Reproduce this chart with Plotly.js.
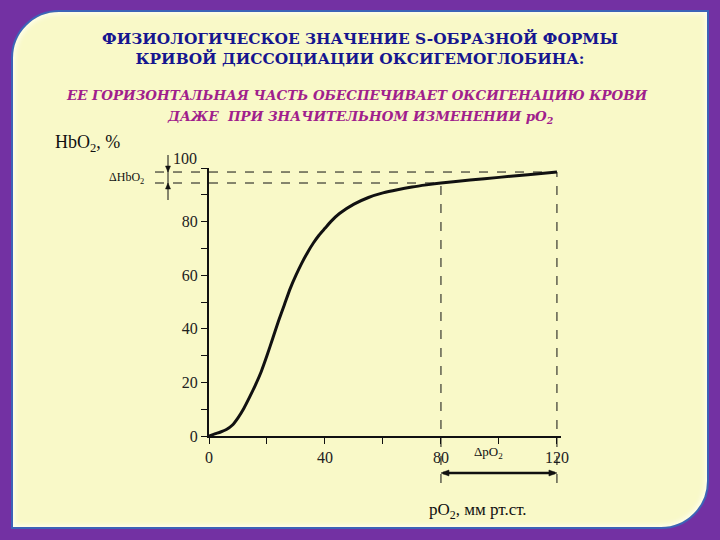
<!DOCTYPE html>
<html><head><meta charset="utf-8">
<script src="https://cdn.plot.ly/plotly-3.0.1.min.js"></script>
<style>
html,body{margin:0;padding:0;width:720px;height:540px;background:#7331a3;overflow:hidden}
#card{position:absolute;left:11px;top:10px;width:694px;height:515px;background:#f9f9c8;border:2px solid #3d63b8;border-radius:48px 0 48px 0;box-shadow:inset 0 0 5px 2px #fffff0;}
#chart{position:absolute;left:0;top:0;width:720px;height:540px}
</style></head><body>
<div id="card"></div><div id="chart"></div>
<script>
// Oxygen partial pressure, mm Hg
const pO2  = [0, 2, 4, 6, 8, 10, 12, 14, 16, 18, 20, 22, 24, 26, 28, 30, 32, 34, 36, 38, 40, 42, 45, 50, 55, 60, 65, 70, 75, 80, 90, 100, 110, 120];
// Oxyhemoglobin saturation, %
const HbO2 = [0, 0.8, 1.5, 2.4, 4, 6.8, 10.3, 14.5, 19, 24, 30, 36.5, 43, 49, 55, 60, 64.5, 68.5, 72, 75, 77.5, 80, 83, 86.5, 89, 90.7, 91.9, 92.9, 93.7, 94.4, 95.5, 96.5, 97.5, 98.5];
const xTickVals = [0, 40, 80, 120];
const xTickText = ['0', '40', '80', '120'];
const xMinorVals = [20, 60, 100];
const yTickVals = [0, 20, 40, 60, 80];
const yTickText = ['0', '20', '40', '60', '80'];
const yMinorVals = [10, 30, 50, 70, 90, 100];
const pO2Low = 80, pO2High = 120;

const xMax = 121.4;
const sx = 1 / 352, sy = 1 / 268;   // paper units per pixel
const hLow = HbO2[pO2.indexOf(pO2Low)];
const hHigh = HbO2[pO2.indexOf(pO2High)];
const serif = 'Liberation Serif';
const boldSerif = 'DejaVu Serif';

const curve = {
  x: pO2, y: HbO2, type: 'scatter', mode: 'lines',
  line: {color: '#111', width: 3, shape: 'spline', smoothing: 0.6},
  hoverinfo: 'skip', showlegend: false
};

// triangle arrowheads in paper coordinates
function tri(tx, ty, dir, len, half) {
  let p;
  if (dir === 'down') p = [[tx, ty], [tx - half * sx, ty + len * sy], [tx + half * sx, ty + len * sy]];
  if (dir === 'up') p = [[tx, ty], [tx - half * sx, ty - len * sy], [tx + half * sx, ty - len * sy]];
  if (dir === 'left') p = [[tx, ty], [tx + len * sx, ty + half * sy], [tx + len * sx, ty - half * sy]];
  if (dir === 'right') p = [[tx, ty], [tx - len * sx, ty + half * sy], [tx - len * sx, ty - half * sy]];
  return {type: 'path', xref: 'paper', yref: 'paper',
    path: 'M' + p.map(q => q[0].toFixed(5) + ',' + q[1].toFixed(5)).join('L') + 'Z',
    fillcolor: '#111', line: {color: '#111', width: 0.5}};
}

const dHbX = -41 * sx;       // x of the ΔHbO2 bracket
const dPoY = -37 * sy;       // y of the ΔpO2 bracket
const dash = {color: '#111', width: 1, dash: 'dash'};
const shapes = [
  {type: 'line', xref: 'paper', yref: 'y', x0: -54 * sx, x1: pO2High / xMax, y0: hHigh, y1: hHigh, line: dash},
  {type: 'line', xref: 'paper', yref: 'y', x0: -54 * sx, x1: pO2Low / xMax, y0: hLow, y1: hLow, line: dash},
  {type: 'line', xref: 'x', yref: 'paper', x0: pO2Low, x1: pO2Low, y0: -47 * sy, y1: hLow / 100, line: dash},
  {type: 'line', xref: 'x', yref: 'paper', x0: pO2High, x1: pO2High, y0: -47 * sy, y1: hHigh / 100, line: dash},
  {type: 'line', xref: 'paper', yref: 'paper', x0: dHbX, x1: dHbX, y0: 1 + 13 * sy, y1: 1 - 32 * sy, line: {color: '#111', width: 1}},
  {type: 'line', xref: 'x', yref: 'paper', x0: pO2Low + 2 / (352 / xMax), x1: pO2High - 2 / (352 / xMax), y0: dPoY, y1: dPoY, line: {color: '#111', width: 2.5}},
  tri(dHbX, hHigh / 100, 'down', 6, 2.5),
  tri(dHbX, hLow / 100, 'up', 6, 2.5),
  tri(pO2Low / xMax, dPoY, 'left', 8, 3),
  tri(pO2High / xMax, dPoY, 'right', 8, 3)
];

const ann = (text, x, y, font) => ({text, xref: 'paper', yref: 'paper', x, y, xanchor: 'center', yanchor: 'middle', showarrow: false, font});
const subFont = {family: boldSerif, size: 13.4, color: '#a0208c', weight: 700, style: 'italic'};
const plain = (size, color) => ({family: serif, size, color});
const annotations = [
  ann('ЕЕ ГОРИЗОНТАЛЬНАЯ ЧАСТЬ ОБЕСПЕЧИВАЕТ ОКСИГЕНАЦИЮ КРОВИ', 0.42, 1.272, subFont),
  ann('ДАЖЕ&nbsp; ПРИ ЗНАЧИТЕЛЬНОМ ИЗМЕНЕНИИ pO<sub>2</sub>', 0.43, 1.19, subFont),
  ann('HbO<sub>2</sub>, %', -0.344, 1.093, plain(18, '#111')),
  ann('pO<sub>2</sub>, мм рт.ст.', 0.764, -0.28, plain(17, '#111')),
  ann('ΔHbO<sub>2</sub>', -0.233, 0.963, plain(12, '#111')),
  ann('ΔpO<sub>2</sub>', 0.793, -0.063, plain(13, '#111')),
  ann('100', -0.068, 1.037, plain(16, '#222'))
];

const layout = {
  width: 720, height: 540,
  margin: {l: 209, r: 159, t: 168, b: 104, autoexpand: false},
  paper_bgcolor: 'rgba(0,0,0,0)', plot_bgcolor: 'rgba(0,0,0,0)',
  title: {
    text: 'ФИЗИОЛОГИЧЕСКОЕ ЗНАЧЕНИЕ S-ОБРАЗНОЙ ФОРМЫ<br>КРИВОЙ ДИССОЦИАЦИИ ОКСИГЕМОГЛОБИНА:',
    x: 0.5, xref: 'container', y: 0.918, yref: 'container', yanchor: 'middle',
    font: {family: boldSerif, size: 15.4, color: '#16168f', weight: 700}
  },
  xaxis: {
    range: [0, xMax], showline: true, linecolor: '#111', linewidth: 1.5,
    ticks: 'outside', ticklen: 6, tickwidth: 1, tickcolor: '#111',
    tickvals: xTickVals, ticktext: xTickText, showgrid: false, zeroline: false,
    minor: {tickvals: xMinorVals, ticks: 'outside', ticklen: 6, tickcolor: '#111', showgrid: false},
    tickfont: {family: serif, size: 16, color: '#222'}, automargin: false, fixedrange: true
  },
  yaxis: {
    range: [0, 100], showline: true, linecolor: '#111', linewidth: 2,
    ticks: 'outside', ticklen: 6, tickwidth: 1, tickcolor: '#111',
    tickvals: yTickVals, ticktext: yTickText, showgrid: false, zeroline: false,
    minor: {tickvals: yMinorVals, ticks: 'outside', ticklen: 6, tickcolor: '#111', showgrid: false},
    tickfont: {family: serif, size: 16, color: '#222'}, automargin: false, fixedrange: true
  },
  shapes: shapes,
  annotations: annotations,
  showlegend: false
};

Plotly.newPlot('chart', [curve], layout, {displayModeBar: false, staticPlot: true});
</script>
</body></html>
